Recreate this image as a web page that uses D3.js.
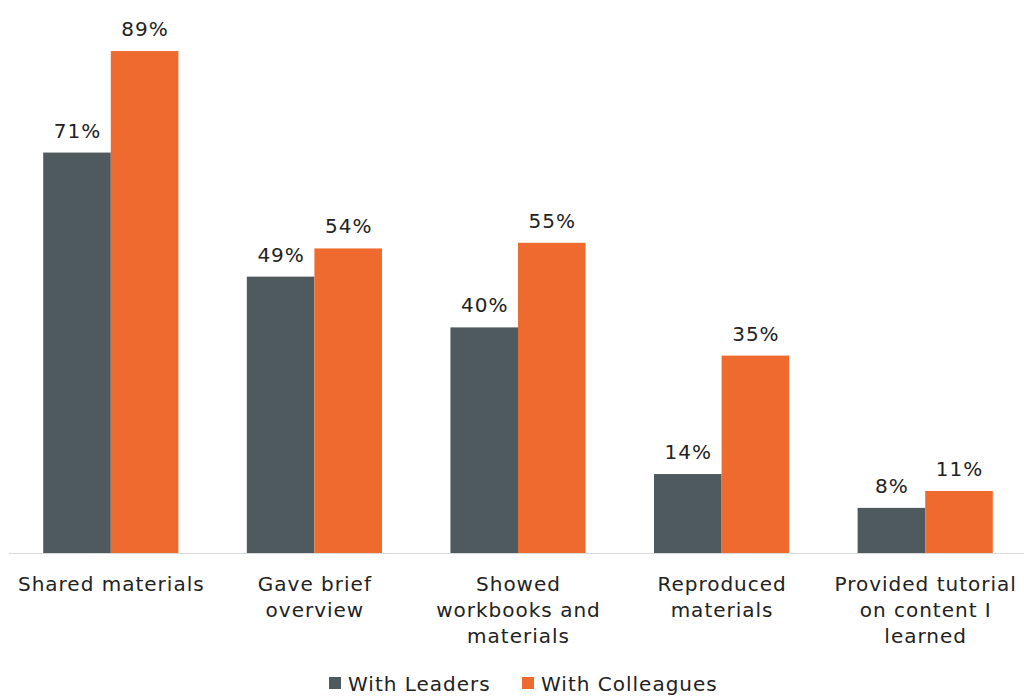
<!DOCTYPE html>
<html><head><meta charset="utf-8">
<script src="https://cdn.jsdelivr.net/npm/d3@7"></script>
<style>body{margin:0;background:#fff}svg{display:block}text{font-family:"DejaVu Sans",Verdana,sans-serif;fill:#222;letter-spacing:1px}</style>
</head><body><svg id="c" width="1024" height="696"></svg>
<script>
const categories = ["Shared materials","Gave brief overview","Showed workbooks and materials","Reproduced materials","Provided tutorial on content I learned"];
const categoryLines = [["Shared materials"],["Gave brief","overview"],["Showed","workbooks and","materials"],["Reproduced","materials"],["Provided tutorial","on content I","learned"]];
const seriesNames = ["With Leaders","With Colleagues"];
const leaders = [71,49,40,14,8];
const colleagues = [89,54,55,35,11];
const colors = ["#4f5a5e","#ef6a2f"];

const svg = d3.select("#c");
const x = d3.scaleBand().domain(categories).range([9,1027]).paddingInner(0.336).paddingOuter(0.168);
const xs = d3.scaleBand().domain(seriesNames).range([0,x.bandwidth()]);
const y = d3.scaleLinear().domain([0,100]).range([553,-11]);
const series = [leaders, colleagues];

const data = [];
categories.forEach((c,i)=>series.forEach((s,j)=>data.push({c,s:seriesNames[j],v:s[i],j})));

svg.selectAll("rect.bar").data(data).join("rect").attr("class","bar")
  .attr("x",d=>x(d.c)+xs(d.s)).attr("width",xs.bandwidth())
  .attr("y",d=>y(d.v)).attr("height",d=>y(0)-y(d.v)).attr("fill",d=>colors[d.j]);

svg.append("line").attr("x1",9).attr("x2",1024).attr("y1",y(0)+0.5).attr("y2",y(0)+0.5).attr("stroke","#d9d9d9").attr("stroke-width",1);

svg.selectAll("text.val").data(data).join("text").attr("class","val")
  .attr("x",d=>x(d.c)+xs(d.s)+xs.bandwidth()/2+0.5).attr("y",d=>y(d.v)-15)
  .attr("text-anchor","middle").attr("font-size",20).text(d=>d.v+"%");

categories.forEach((c,i)=>{
  const cx = x(c)+x.bandwidth()/2+0.5;
  const t = svg.append("text").attr("text-anchor","middle").attr("font-size",20)
    .attr("x",cx).attr("y",591);
  categoryLines[i].forEach((l,k)=>t.append("tspan").attr("x",cx).attr("dy",k?26:0).text(l));
});

const legX = [329,522];
seriesNames.forEach((n,j)=>{
  svg.append("rect").attr("x",legX[j]).attr("y",677).attr("width",12).attr("height",12).attr("fill",colors[j]);
  svg.append("text").attr("x",legX[j]+19).attr("y",691).attr("font-size",20).text(n);
});
</script></body></html>
